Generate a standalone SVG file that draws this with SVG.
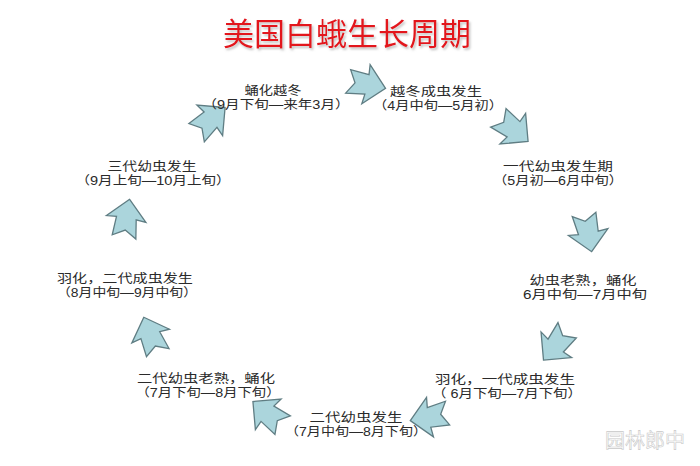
<svg xmlns="http://www.w3.org/2000/svg" width="700" height="466" viewBox="0 0 700 466">
<style>
.t{font-family:"Liberation Sans","Noto Sans CJK SC",sans-serif;font-size:12px;fill:#2a2a2a;text-anchor:middle}
.ttl{font-family:"Noto Sans CJK SC",sans-serif;font-size:31px;text-anchor:middle;fill:#e3141c}
.ar{fill:#abd5dc;stroke:#5f7d83;stroke-width:1.3;stroke-linejoin:miter}
.wm{font-family:"Noto Sans CJK SC",sans-serif;font-size:20px;text-anchor:middle;fill:#ffffff;stroke:#c8c8c8;stroke-width:0.6}
</style>
<defs>
<filter id="sh" x="-5%" y="-20%" width="110%" height="150%">
<feDropShadow dx="1.5" dy="2" stdDeviation="1" flood-color="#999999" flood-opacity="0.6"/>
</filter>
<polygon id="arr" points="21,0 1,-20 2,-10 -17,-11 -10,1 -17,13 2,10 1,20"/>
</defs>
<rect width="700" height="466" fill="#ffffff"/>
<g id="title">
<text class="ttl" x="347" y="45" filter="url(#sh)">美国白蛾生长周期</text>
</g>
<g id="connectors">
<use href="#arr" class="ar" transform="translate(365,84) rotate(12)"/>
<use href="#arr" class="ar" transform="translate(512,128) rotate(40)"/>
<use href="#arr" class="ar" transform="translate(588,231) rotate(80)"/>
<use href="#arr" class="ar" transform="translate(557,344) rotate(130)"/>
<use href="#arr" class="ar" transform="translate(431,417) rotate(170)"/>
<use href="#arr" class="ar" transform="translate(269,415) rotate(220)"/>
<use href="#arr" class="ar" transform="translate(151,337) rotate(250)"/>
<use href="#arr" class="ar" transform="translate(126,220) rotate(280)"/>
<use href="#arr" class="ar" transform="translate(209,121) rotate(320)"/>
</g>
<g id="n1"><text class="t"><tspan x="273" y="94.5" textLength="57" lengthAdjust="spacingAndGlyphs">蛹化越冬</tspan><tspan x="276" y="108.5" textLength="147" lengthAdjust="spacingAndGlyphs">（9月下旬—来年3月）</tspan></text></g>
<g id="n2"><text class="t"><tspan x="436" y="95.5" textLength="92" lengthAdjust="spacingAndGlyphs">越冬成虫发生</tspan><tspan x="438" y="109.5" textLength="130" lengthAdjust="spacingAndGlyphs">（4月中旬—5月初）</tspan></text></g>
<g id="n3"><text class="t"><tspan x="558" y="170.5" textLength="110" lengthAdjust="spacingAndGlyphs">一代幼虫发生期</tspan><tspan x="558" y="184.5" textLength="130" lengthAdjust="spacingAndGlyphs">（5月初—6月中旬）</tspan></text></g>
<g id="n4"><text class="t"><tspan x="583" y="284.5" textLength="107" lengthAdjust="spacingAndGlyphs">幼虫老熟，蛹化</tspan><tspan x="585" y="298.5" textLength="124" lengthAdjust="spacingAndGlyphs">6月中旬—7月中旬</tspan></text></g>
<g id="n5"><text class="t"><tspan x="505" y="384" textLength="140" lengthAdjust="spacingAndGlyphs">羽化，一代成虫发生</tspan><tspan x="507" y="398" textLength="150" lengthAdjust="spacingAndGlyphs">（ 6月下旬—7月下旬）</tspan></text></g>
<g id="n6"><text class="t"><tspan x="356" y="422" textLength="93" lengthAdjust="spacingAndGlyphs">二代幼虫发生</tspan><tspan x="356" y="436" textLength="142" lengthAdjust="spacingAndGlyphs">（7月中旬—8月下旬）</tspan></text></g>
<g id="n7"><text class="t"><tspan x="206" y="383" textLength="138" lengthAdjust="spacingAndGlyphs">二代幼虫老熟，蛹化</tspan><tspan x="208" y="397" textLength="145" lengthAdjust="spacingAndGlyphs">（7月下旬—8月下旬）</tspan></text></g>
<g id="n8"><text class="t"><tspan x="125" y="283" textLength="136" lengthAdjust="spacingAndGlyphs">羽化，二代成虫发生</tspan><tspan x="127" y="297" textLength="140" lengthAdjust="spacingAndGlyphs">（8月中旬—9月中旬）</tspan></text></g>
<g id="n9"><text class="t"><tspan x="152" y="170.5" textLength="89" lengthAdjust="spacingAndGlyphs">三代幼虫发生</tspan><tspan x="153" y="184.5" textLength="155" lengthAdjust="spacingAndGlyphs">（9月上旬—10月上旬）</tspan></text></g>
<g id="watermark"><text class="wm" x="645" y="448">园林郎中</text></g>
</svg>
